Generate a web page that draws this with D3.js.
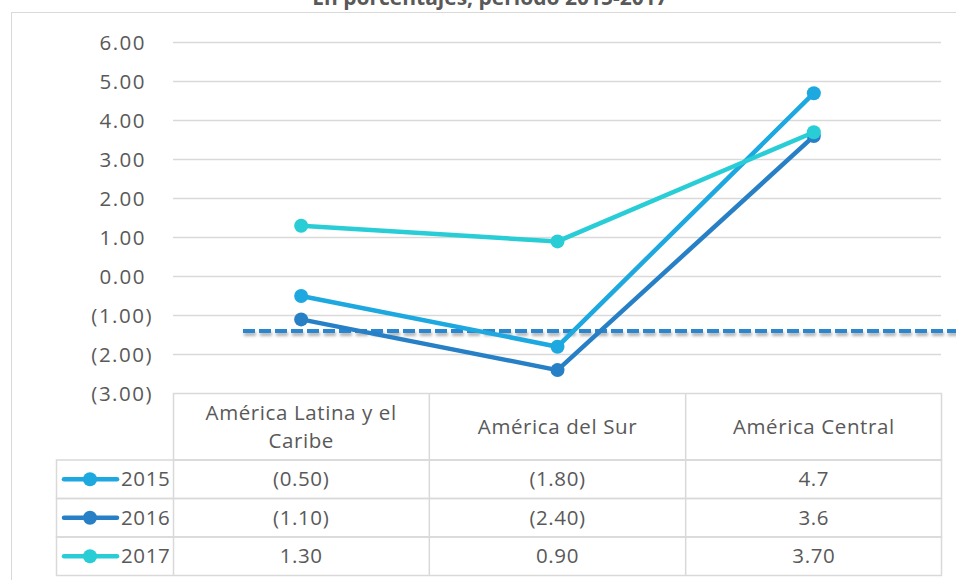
<!DOCTYPE html>
<html>
<head>
<meta charset="utf-8">
<script src="https://cdn.jsdelivr.net/npm/d3@7"></script>
<style>
  body { margin: 0; background: #fff; }
  svg { display: block; font-family: "Open Sans", Lato, sans-serif; }
</style>
</head>
<body>
<svg width="956" height="580"></svg>
<script>
// données
const categories = ['América Latina y el Caribe', 'América del Sur', 'América Central'];
const categoryLines = [['América Latina y el', 'Caribe'], ['América del Sur'], ['América Central']];
const years = ['2015', '2016', '2017'];
const values2015 = [-0.5, -1.8, 4.7];
const values2016 = [-1.1, -2.4, 3.6];
const values2017 = [1.3, 0.9, 3.7];
const tableLabels2015 = ['(0.50)', '(1.80)', '4.7'];
const tableLabels2016 = ['(1.10)', '(2.40)', '3.6'];
const tableLabels2017 = ['1.30', '0.90', '3.70'];
const yTicks = [-3, -2, -1, 0, 1, 2, 3, 4, 5, 6];
const refValue = -1.4;
const title = 'En porcentajes, período 2015-2017';

const colors = ['#1DA8E0', '#2780C6', '#29CDD6'];
const series = [
  { year: years[0], values: values2015, labels: tableLabels2015, color: colors[0] },
  { year: years[1], values: values2016, labels: tableLabels2016, color: colors[1] },
  { year: years[2], values: values2017, labels: tableLabels2017, color: colors[2] }
];

const svg = d3.select('svg');
const textColor = '#595959';
const gridColor = '#D9D9D9';
const fontSize = 20.5;
const spacing = 0.6;

// cadre extérieur
svg.append('rect')
  .attr('x', 11.5).attr('y', 12.5)
  .attr('width', 1000).attr('height', 1000)
  .attr('fill', 'none').attr('stroke', gridColor).attr('stroke-width', 1);

// titre (coupé en haut)
svg.append('text')
  .attr('x', 490).attr('y', 5)
  .attr('text-anchor', 'middle')
  .attr('font-weight', 'bold')
  .attr('font-size', 21)
  .attr('fill', textColor)
  .text(title);

// échelles
const plotLeft = 173, plotRight = 942;
const x = d3.scaleBand().domain(categories).range([plotLeft, plotRight]);
const y = d3.scaleLinear().domain([-3, 6]).range([393.5, 42.5]);

// grille
svg.append('g')
  .selectAll('line')
  .data(yTicks.filter(d => d > -3))
  .join('line')
  .attr('x1', plotLeft).attr('x2', plotRight - 1)
  .attr('y1', d => y(d)).attr('y2', d => y(d))
  .attr('stroke', gridColor).attr('stroke-width', 1.5);

// axe Y
const yAxis = svg.append('g')
  .attr('transform', 'translate(153,0)')
  .call(d3.axisLeft(y).tickValues(yTicks).tickSize(0).tickPadding(0)
    .tickFormat(d => d < 0 ? `(${d3.format('.2f')(-d)})` : d3.format('.2f')(d)));
yAxis.select('.domain').remove();
yAxis.selectAll('text')
  .attr('font-family', '"Open Sans", Lato, sans-serif')
  .attr('font-size', fontSize)
  .attr('letter-spacing', 1.5)
  .attr('fill', textColor)
  .attr('dx', d => d < 0 ? 0 : -7);

// ombre pour la ligne pointillée
const defs = svg.append('defs');
const filter = defs.append('filter').attr('id', 'shadow')
  .attr('filterUnits', 'userSpaceOnUse')
  .attr('x', 0).attr('y', 300).attr('width', 980).attr('height', 60);
filter.append('feDropShadow')
  .attr('dx', 1).attr('dy', 3).attr('stdDeviation', 1.5)
  .attr('flood-color', '#000').attr('flood-opacity', 0.3);

// ligne de référence
svg.append('line')
  .attr('x1', 243).attr('x2', 960)
  .attr('y1', y(refValue)).attr('y2', y(refValue))
  .attr('stroke', '#2A86CE')
  .attr('stroke-width', 4)
  .attr('stroke-dasharray', '12,4')
  .attr('filter', 'url(#shadow)');

// courbes
const line = d3.line()
  .x((d, i) => x(categories[i]) + x.bandwidth() / 2)
  .y(d => y(d));

const lines = svg.append('g');
series.forEach(s => {
  lines.append('path')
    .attr('d', line(s.values))
    .attr('fill', 'none')
    .attr('stroke', s.color)
    .attr('stroke-width', 4.5)
    .attr('stroke-linecap', 'round');
  lines.selectAll(null)
    .data(s.values)
    .join('circle')
    .attr('cx', (d, i) => x(categories[i]) + x.bandwidth() / 2)
    .attr('cy', d => y(d))
    .attr('r', 7)
    .attr('fill', s.color);
});

// tableau de données
const headerTop = 393.5, headerH = 66.5, rowH = 38.5;
const legendLeft = 56.5;
const table = svg.append('g')
  .attr('font-size', fontSize)
  .attr('letter-spacing', spacing);

// en-tête
table.append('rect')
  .attr('x', plotLeft + 0.5).attr('y', headerTop)
  .attr('width', plotRight - plotLeft - 1).attr('height', headerH)
  .attr('fill', 'none').attr('stroke', gridColor).attr('stroke-width', 1.5);
categories.forEach((c, i) => {
  if (i > 0) {
    table.append('line')
      .attr('x1', x(c)).attr('x2', x(c))
      .attr('y1', headerTop).attr('y2', headerTop + headerH + rowH * 3)
      .attr('stroke', gridColor).attr('stroke-width', 1.5);
  }
  const lns = categoryLines[i];
  const t = table.append('text')
    .attr('text-anchor', 'middle')
    .attr('fill', textColor);
  lns.forEach((l, k) => {
    t.append('tspan')
      .attr('x', x(c) + x.bandwidth() / 2)
      .attr('y', headerTop + headerH / 2 + 7 + (k - (lns.length - 1) / 2) * 28)
      .text(l);
  });
});

// lignes du tableau
series.forEach((s, r) => {
  const top = headerTop + headerH + r * rowH;
  table.append('rect')
    .attr('x', legendLeft).attr('y', top)
    .attr('width', plotRight - 0.5 - legendLeft).attr('height', rowH)
    .attr('fill', 'none').attr('stroke', gridColor).attr('stroke-width', 1.5);
  table.append('line')
    .attr('x1', plotLeft + 0.5).attr('x2', plotLeft + 0.5)
    .attr('y1', top).attr('y2', top + rowH)
    .attr('stroke', gridColor).attr('stroke-width', 1.5);
  // légende
  const cy = top + rowH / 2;
  table.append('line')
    .attr('x1', 64).attr('x2', 117)
    .attr('y1', cy).attr('y2', cy)
    .attr('stroke', s.color).attr('stroke-width', 4.5)
    .attr('stroke-linecap', 'round');
  table.append('circle')
    .attr('cx', 90).attr('cy', cy).attr('r', 7)
    .attr('fill', s.color);
  table.append('text')
    .attr('x', 121).attr('y', cy + 7)
    .attr('fill', textColor)
    .text(s.year);
  s.labels.forEach((lab, i) => {
    table.append('text')
      .attr('x', x(categories[i]) + x.bandwidth() / 2)
      .attr('y', cy + 7)
      .attr('text-anchor', 'middle')
      .attr('fill', textColor)
      .text(lab);
  });
});
</script>
</body>
</html>
